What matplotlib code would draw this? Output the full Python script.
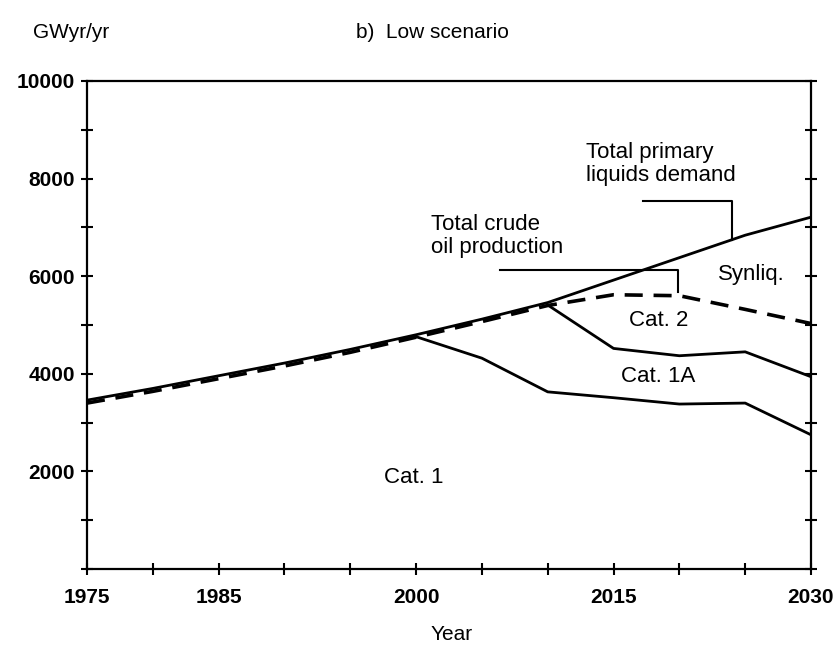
import numpy as np
import matplotlib
matplotlib.use("Agg")
import matplotlib.pyplot as plt
from matplotlib.ticker import FixedLocator, FuncFormatter

# ---- data ----
years = [1975, 1980, 1985, 1990, 1995, 2000, 2005, 2010, 2015, 2020, 2025, 2030]
demand = [3460, 3700, 3960, 4220, 4500, 4800, 5120, 5460, 5920, 6380, 6840, 7210]
crude = [3400, 3640, 3900, 4160, 4440, 4750, 5070, 5400, 5620, 5600, 5320, 5030]

cat1a_years = [2010, 2015, 2020, 2025, 2030]
cat1a_top = [5410, 4520, 4370, 4450, 3940]

cat1_years = [2000, 2005, 2010, 2015, 2020, 2025, 2030]
cat1_top = [4760, 4320, 3630, 3510, 3380, 3400, 2750]

x_ticks = list(range(1975, 2031, 5))
x_labels = {1975: "1975", 1985: "1985", 2000: "2000", 2015: "2015", 2030: "2030"}
y_ticks = list(range(0, 10001, 1000))
y_labels = {2000: "2000", 4000: "4000", 6000: "6000", 8000: "8000", 10000: "10000"}

plt.rcParams['font.family'] = ['Liberation Sans', 'DejaVu Sans']

fig = plt.figure(figsize=(8.36, 6.5), dpi=100)
ax = fig.add_axes([87/836, 1-569/650, (811-87)/836, (569-81)/650])

lw = 2.0
ax.plot(years, demand, color='black', lw=lw, solid_capstyle='butt')
ax.plot(years, crude, color='black', lw=lw + 0.6, ls=(0, (5, 3)))
ax.plot(cat1a_years, cat1a_top, color='black', lw=lw)
ax.plot(cat1_years, cat1_top, color='black', lw=lw)

ax.set_xlim(1975, 2030)
ax.set_ylim(0, 10000)

ax.xaxis.set_major_locator(FixedLocator(x_ticks))
ax.xaxis.set_major_formatter(FuncFormatter(lambda v, p: x_labels.get(int(round(v)), "")))
ax.yaxis.set_major_locator(FixedLocator(y_ticks))
ax.yaxis.set_major_formatter(FuncFormatter(lambda v, p: y_labels.get(int(round(v)), "")))

ax.tick_params(axis='both', direction='inout', length=9, width=1.5, labelsize=15, colors='black')
ax.tick_params(axis='y', right=True, pad=4)
ax.tick_params(axis='x', pad=9)
for s in ax.spines.values():
    s.set_linewidth(1.6)
for lab in ax.get_xticklabels() + ax.get_yticklabels():
    lab.set_fontweight('bold')

fs = 16
# annotations
ax.text(2012.9, 8299, "Total primary\nliquids demand", fontsize=fs, ha='left', va='center', linespacing=1.15)
xb0, xb1, yb = 2017.2, 2024.0, 7541
ax.plot([xb0, xb1, xb1], [yb, yb, np.interp(xb1, years, demand)], color='black', lw=1.5)

ax.text(2001.1, 6824, "Total crude\noil production", fontsize=fs, ha='left', va='center', linespacing=1.15)
xc0, xc1, yc = 2006.4, 2019.9, 6137
ax.plot([xc0, xc1, xc1], [yc, yc, np.interp(xc1, years, crude) + 80], color='black', lw=1.5)

ax.text(2022.9, 6045, "Synliq.", fontsize=fs, ha='left', va='center')
ax.text(2016.2, 5102, "Cat. 2", fontsize=fs, ha='left', va='center')
ax.text(2015.6, 3940, "Cat. 1A", fontsize=fs, ha='left', va='center')
ax.text(1997.6, 1865, "Cat. 1", fontsize=fs, ha='left', va='center')

fig.text(33/836, 1-33/650, "GWyr/yr", fontsize=15, ha='left', va='center')
fig.text(356/836, 1-33/650, "b)  Low scenario", fontsize=15, ha='left', va='center')
fig.text(452/836, 1-635/650, "Year", fontsize=15, ha='center', va='center')

fig.savefig("out.png", dpi=100)
